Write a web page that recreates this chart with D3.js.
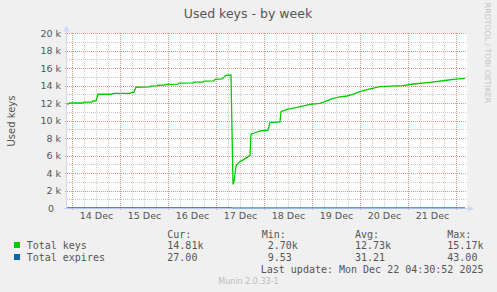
<!DOCTYPE html>
<html>
<head>
<meta charset="utf-8">
<script src="https://cdn.jsdelivr.net/npm/d3@7/dist/d3.min.js"></script>
<style>
  html, body { margin: 0; padding: 0; background: #f0f0f0; }
  svg { display: block; }
  text { white-space: pre; }
</style>
</head>
<body>
<svg id="chart" width="497" height="292"></svg>
<script>
// ---------- data ----------
const title = "Used keys - by week";
const yLabel = "Used keys";
const timeStart = "2025-12-13T21:30";
const timeEnd = "2025-12-22T05:30";
const yDomain = [0, 20000];
const yTicks = [0, 2000, 4000, 6000, 8000, 10000, 12000, 14000, 16000, 18000, 20000];

const keysSeries = [
  ["2025-12-13T21:30", 11850], ["2025-12-13T23:00", 12000], ["2025-12-14T05:30", 12000],
  ["2025-12-14T06:00", 12100], ["2025-12-14T10:00", 12100], ["2025-12-14T10:30", 12230],
  ["2025-12-14T12:00", 12250], ["2025-12-14T13:00", 13000], ["2025-12-14T20:00", 13000],
  ["2025-12-14T20:30", 13100], ["2025-12-15T05:00", 13100], ["2025-12-15T05:30", 13200],
  ["2025-12-15T07:00", 13250], ["2025-12-15T08:00", 13800], ["2025-12-15T15:00", 13850],
  ["2025-12-15T15:30", 13930], ["2025-12-15T18:30", 13950], ["2025-12-15T19:00", 14030],
  ["2025-12-15T22:30", 14050], ["2025-12-15T23:00", 14130], ["2025-12-16T05:00", 14150],
  ["2025-12-16T05:30", 14270], ["2025-12-16T12:30", 14300], ["2025-12-16T13:00", 14380],
  ["2025-12-16T17:30", 14400], ["2025-12-16T18:00", 14500], ["2025-12-16T23:00", 14530],
  ["2025-12-16T23:30", 14700], ["2025-12-17T03:00", 14750], ["2025-12-17T04:30", 15080],
  ["2025-12-17T05:30", 15170], ["2025-12-17T07:30", 15170], ["2025-12-17T08:30", 2700],
  ["2025-12-17T09:00", 3000], ["2025-12-17T10:00", 4800], ["2025-12-17T11:00", 5100],
  ["2025-12-17T12:00", 5300], ["2025-12-17T13:30", 5500], ["2025-12-17T15:00", 5700],
  ["2025-12-17T16:30", 5950], ["2025-12-17T17:00", 6000], ["2025-12-17T17:30", 8450],
  ["2025-12-17T19:30", 8600], ["2025-12-17T22:00", 8800], ["2025-12-18T02:00", 8900],
  ["2025-12-18T03:00", 9750], ["2025-12-18T08:00", 9850], ["2025-12-18T08:30", 11000],
  ["2025-12-18T11:30", 11280], ["2025-12-18T16:30", 11500], ["2025-12-18T23:00", 11850],
  ["2025-12-19T04:00", 11960], ["2025-12-19T06:30", 12150], ["2025-12-19T10:00", 12500],
  ["2025-12-19T14:00", 12700], ["2025-12-19T17:30", 12800], ["2025-12-19T20:00", 12950],
  ["2025-12-20T00:00", 13300], ["2025-12-20T04:00", 13550], ["2025-12-20T10:00", 13870],
  ["2025-12-20T21:30", 13980], ["2025-12-21T02:30", 14170], ["2025-12-21T11:00", 14360],
  ["2025-12-21T19:30", 14600], ["2025-12-21T22:30", 14700], ["2025-12-22T04:30", 14810]
];

const expiresSeries = [
  ["2025-12-13T21:30", 38], ["2025-12-14T12:00", 40], ["2025-12-15T06:00", 42],
  ["2025-12-16T00:00", 43], ["2025-12-16T18:00", 41], ["2025-12-17T07:30", 40],
  ["2025-12-17T08:30", 9.53], ["2025-12-17T18:00", 15], ["2025-12-18T12:00", 20],
  ["2025-12-19T12:00", 24], ["2025-12-20T12:00", 26], ["2025-12-21T12:00", 28],
  ["2025-12-22T04:30", 27]
];

const legendHeaders = ["Cur:", "Min:", "Avg:", "Max:"];
const legendNames = ["Total keys", "Total expires"];
const legendColors = ["#00cc00", "#0066b3"];
const keysStats = ["14.81k", " 2.70k", "12.73k", "15.17k"];
const expiresStats = ["27.00", " 9.53", "31.21", "43.00"];
const lastUpdate = "Last update: Mon Dec 22 04:30:52 2025";
const footer = "Munin 2.0.33-1";
const watermark = "RRDTOOL / TOBI OETIKER";

// ---------- drawing ----------
const parse = d3.utcParse("%Y-%m-%dT%H:%M");
const svg = d3.select("#chart");
const W = 497, H = 292;
const L = 67, R = 467, T = 33, B = 208;
const fontSans = "'DejaVu Sans', sans-serif";
const fontMono = "'DejaVu Sans Mono', monospace";
const fontColor = "#555";

svg.append("rect").attr("width", W).attr("height", H).attr("fill", "#f0f0f0");

const t0 = parse(timeStart), t1 = parse(timeEnd);
const x = d3.scaleUtc().domain([t0, t1]).range([L, R]);
const y = d3.scaleLinear().domain(yDomain).range([B, T]);

// canvas
svg.append("rect").attr("x", L).attr("y", T).attr("width", R - L).attr("height", B - T).attr("fill", "#fff");

const grid = svg.append("g").attr("shape-rendering", "crispEdges");
const minorY = d3.range(yDomain[0] + 1000, yDomain[1], 2000);
grid.selectAll(".mh").data(minorY).join("line")
  .attr("x1", L).attr("x2", R)
  .attr("y1", d => Math.round(y(d)) + 0.5).attr("y2", d => Math.round(y(d)) + 0.5)
  .attr("stroke", "#c8c8c8").attr("stroke-dasharray", "1,1");
const minorX = d3.utcHour.every(6).range(t0, t1).filter(d => d.getUTCHours() !== 0);
grid.selectAll(".mv").data(minorX).join("line")
  .attr("y1", T).attr("y2", B)
  .attr("x1", d => Math.round(x(d)) + 0.5).attr("x2", d => Math.round(x(d)) + 0.5)
  .attr("stroke", "#c8c8c8").attr("stroke-dasharray", "1,1");
grid.selectAll(".Mh").data(yTicks.filter(d => d > 0)).join("line")
  .attr("x1", L - 2).attr("x2", R)
  .attr("y1", d => Math.round(y(d)) + 0.5).attr("y2", d => Math.round(y(d)) + 0.5)
  .attr("stroke", "#f09090").attr("stroke-dasharray", "1,1");
const majorX = d3.utcDay.range(t0, t1);
grid.selectAll(".Mv").data(majorX).join("line")
  .attr("y1", T).attr("y2", B + 3)
  .attr("x1", d => Math.round(x(d)) + 0.5).attr("x2", d => Math.round(x(d)) + 0.5)
  .attr("stroke", "#f09090").attr("stroke-dasharray", "1,1");

// axes lines + arrows
const axisColor = "#cfd6f8";
svg.append("line").attr("x1", L - 0.5).attr("x2", L - 0.5).attr("y1", 31).attr("y2", B + 1)
  .attr("stroke", axisColor).attr("shape-rendering", "crispEdges");
svg.append("path").attr("d", "M63.5,31.5 L66.5,25.5 L69.5,31.5 Z").attr("fill", axisColor);
svg.append("line").attr("x1", L - 3).attr("x2", 469).attr("y1", B + 0.5).attr("y2", B + 0.5)
  .attr("stroke", axisColor).attr("shape-rendering", "crispEdges");
svg.append("path").attr("d", "M468,205.5 L474,208.5 L468,211.5 Z").attr("fill", axisColor);

// series
const line = d3.line().x(d => x(parse(d[0]))).y(d => y(d[1]));
svg.append("path").datum(expiresSeries).attr("d", line)
  .attr("fill", "none").attr("stroke", legendColors[1]).attr("stroke-width", 1).attr("opacity", 0.85);
svg.append("path").datum(keysSeries).attr("d", line)
  .attr("fill", "none").attr("stroke", legendColors[0]).attr("stroke-width", 1.3);

// y axis
const yAxis = d3.axisLeft(y).tickValues(yTicks).tickSize(0).tickPadding(5)
  .tickFormat(d => d === 0 ? "0" : (d / 1000) + " k");
const gy = svg.append("g").attr("transform", `translate(${L - 1},0)`).call(yAxis);
gy.select(".domain").remove();
gy.selectAll("text").attr("font-family", fontSans).attr("font-size", 9.5).attr("fill", fontColor)
  .attr("dx", d => d === 0 ? -7 : 0);

// x axis (labels at noon)
const noons = d3.utcDay.range(t0, t1).map(d => d3.utcHour.offset(d, 12)).filter(d => d < t1);
const xAxis = d3.axisBottom(x).tickValues(noons).tickSize(0).tickPadding(4)
  .tickFormat(d3.utcFormat("%d Dec"));
const gx = svg.append("g").attr("transform", `translate(0,${B})`).call(xAxis);
gx.select(".domain").remove();
gx.selectAll("text").attr("font-family", fontSans).attr("font-size", 9.5).attr("fill", fontColor);

// title
svg.append("text").attr("x", 248).attr("y", 18).attr("text-anchor", "middle")
  .attr("font-family", fontSans).attr("font-size", 12.5).attr("fill", fontColor).text(title);
// y label
svg.append("text").attr("transform", "translate(15,121) rotate(-90)").attr("text-anchor", "middle")
  .attr("font-family", fontSans).attr("font-size", 10).attr("fill", fontColor).text(yLabel);
// watermark
svg.append("text").attr("transform", "translate(485,53) rotate(90)").attr("text-anchor", "middle")
  .attr("font-family", fontSans).attr("font-size", 7.8).attr("fill", "#c4c4c4").text(watermark);

// legend
const colX = [167.3, 261.7, 355, 447.3];
const rowY = [237.5, 249, 261];
const leg = svg.append("g").attr("font-family", fontMono).attr("font-size", 10).attr("fill", fontColor);
leg.selectAll(".hdr").data(legendHeaders).join("text")
  .attr("x", (d, i) => colX[i]).attr("y", rowY[0]).text(d => d);
[keysStats, expiresStats].forEach((stats, r) => {
  svg.append("rect").attr("x", 14).attr("y", rowY[r + 1] - 7).attr("width", 6).attr("height", 6)
    .attr("fill", legendColors[r]);
  leg.append("text").attr("x", 26.7).attr("y", rowY[r + 1]).text(legendNames[r]);
  leg.selectAll(".v" + r).data(stats).join("text")
    .attr("x", (d, i) => colX[i]).attr("y", rowY[r + 1]).text(d => d);
});
leg.append("text").attr("x", 483.5).attr("y", 273).attr("text-anchor", "end").text(lastUpdate);
svg.append("text").attr("x", 248.5).attr("y", 284).attr("text-anchor", "middle")
  .attr("font-family", fontSans).attr("font-size", 8).attr("fill", "#bbb").text(footer);
</script>
</body>
</html>
